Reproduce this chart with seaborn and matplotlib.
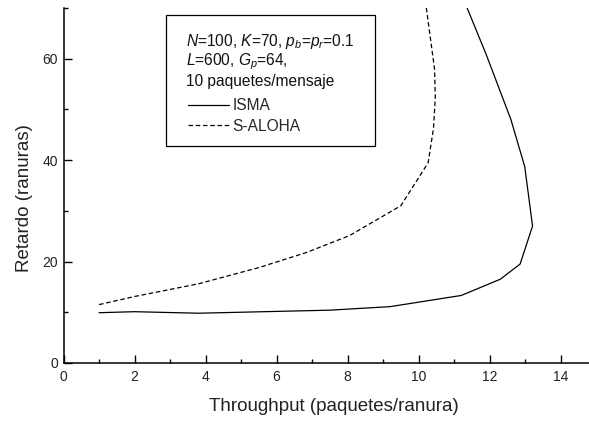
import matplotlib
matplotlib.use("Agg")
import matplotlib.pyplot as plt
from matplotlib.patches import Rectangle
from matplotlib.ticker import MultipleLocator
import numpy as np
import pandas as pd
import seaborn as sns

# Throughput (packets/slot) and delay (slots) for each access protocol
isma_throughput = [1.0, 2.0, 3.8, 7.5, 9.2, 11.2, 12.3, 12.86, 13.21, 12.99, 12.6, 11.9, 11.25]
isma_delay = [9.9, 10.1, 9.8, 10.4, 11.1, 13.3, 16.5, 19.5, 27.0, 38.7, 48.0, 60.9, 72.0]

aloha_throughput = [1.0, 2.0, 3.8, 5.5, 6.85, 8.05, 9.5, 10.27, 10.42, 10.47, 10.45, 10.18]
aloha_delay = [11.5, 13.1, 15.6, 18.8, 21.8, 25.1, 31.0, 39.5, 46.3, 52.3, 57.9, 72.0]

series_names = ["ISMA", "S-ALOHA"]
param_lines = [
    r"$\it{N}$=100, $\it{K}$=70, $\it{p}_b$=$\it{p}_r$=0.1",
    r"$\it{L}$=600, $\it{G}_p$=64,",
    "10 paquetes/mensaje",
]

df = pd.concat([
    pd.DataFrame({"throughput": isma_throughput, "delay": isma_delay,
                  "protocol": series_names[0]}),
    pd.DataFrame({"throughput": aloha_throughput, "delay": aloha_delay,
                  "protocol": series_names[1]}),
], ignore_index=True)

sns.set_style("ticks")
plt.rcParams["font.family"] = ["Liberation Sans", "DejaVu Sans"]
plt.rcParams["mathtext.fontset"] = "custom"
plt.rcParams["mathtext.rm"] = "Liberation Sans"
plt.rcParams["mathtext.it"] = "Liberation Sans:italic"

fig = plt.figure(figsize=(5.89, 4.21), dpi=100)
ax = fig.add_axes([0.108, 0.138, 0.892, 0.843])

dash_pattern = (3.6, 2.2)
sns.lineplot(data=df, x="throughput", y="delay", hue="protocol", style="protocol",
             estimator=None, sort=False,
             palette={"ISMA": "black", "S-ALOHA": "black"},
             dashes={"ISMA": "", "S-ALOHA": dash_pattern},
             linewidth=0.9, ax=ax, legend=False)

ax.set_xlim(0, 14.8)
ax.set_ylim(0, 70)
ax.xaxis.set_major_locator(MultipleLocator(2))
ax.xaxis.set_minor_locator(MultipleLocator(1))
ax.yaxis.set_major_locator(MultipleLocator(20))
ax.yaxis.set_minor_locator(MultipleLocator(10))
ax.tick_params(which="both", direction="in", width=1.0, color="black",
               labelsize=10, labelcolor="#222222")
ax.tick_params(which="major", length=5.5)
ax.tick_params(which="minor", length=3)
ax.tick_params(axis="x", pad=5)
ax.tick_params(axis="y", pad=4)
for side in ("left", "bottom"):
    ax.spines[side].set_linewidth(1.1)
    ax.spines[side].set_color("black")
sns.despine(ax=ax)

ax.set_xlabel("Throughput (paquetes/ranura)", fontsize=13.5, color="#222222", labelpad=10)
ax.set_ylabel("Retardo (ranuras)", fontsize=13.5, color="#222222", labelpad=7)
ax.xaxis.label.set_x(0.514)
ax.yaxis.label.set_y(0.465)

# Parameter box with legend entries
ax.add_patch(Rectangle((0.195, 0.611), 0.398, 0.369, transform=ax.transAxes,
                       fill=False, edgecolor="black", linewidth=0.9, zorder=3))
for i, line in enumerate(param_lines):
    ax.text(0.233, 0.907 - i * 0.0575, line, transform=ax.transAxes,
            fontsize=11.2, va="center", ha="left", color="#111111")

handles = [
    plt.Line2D([], [], color="black", linewidth=0.9),
    plt.Line2D([], [], color="black", linewidth=0.9, dashes=dash_pattern),
]
ax.legend(handles, series_names, loc="upper left", bbox_to_anchor=(0.237, 0.746),
          frameon=False, fontsize=11.2, handlelength=2.63, handletextpad=0.2,
          labelspacing=0.35, borderpad=0, borderaxespad=0)

fig.savefig("out.png", dpi=100)
